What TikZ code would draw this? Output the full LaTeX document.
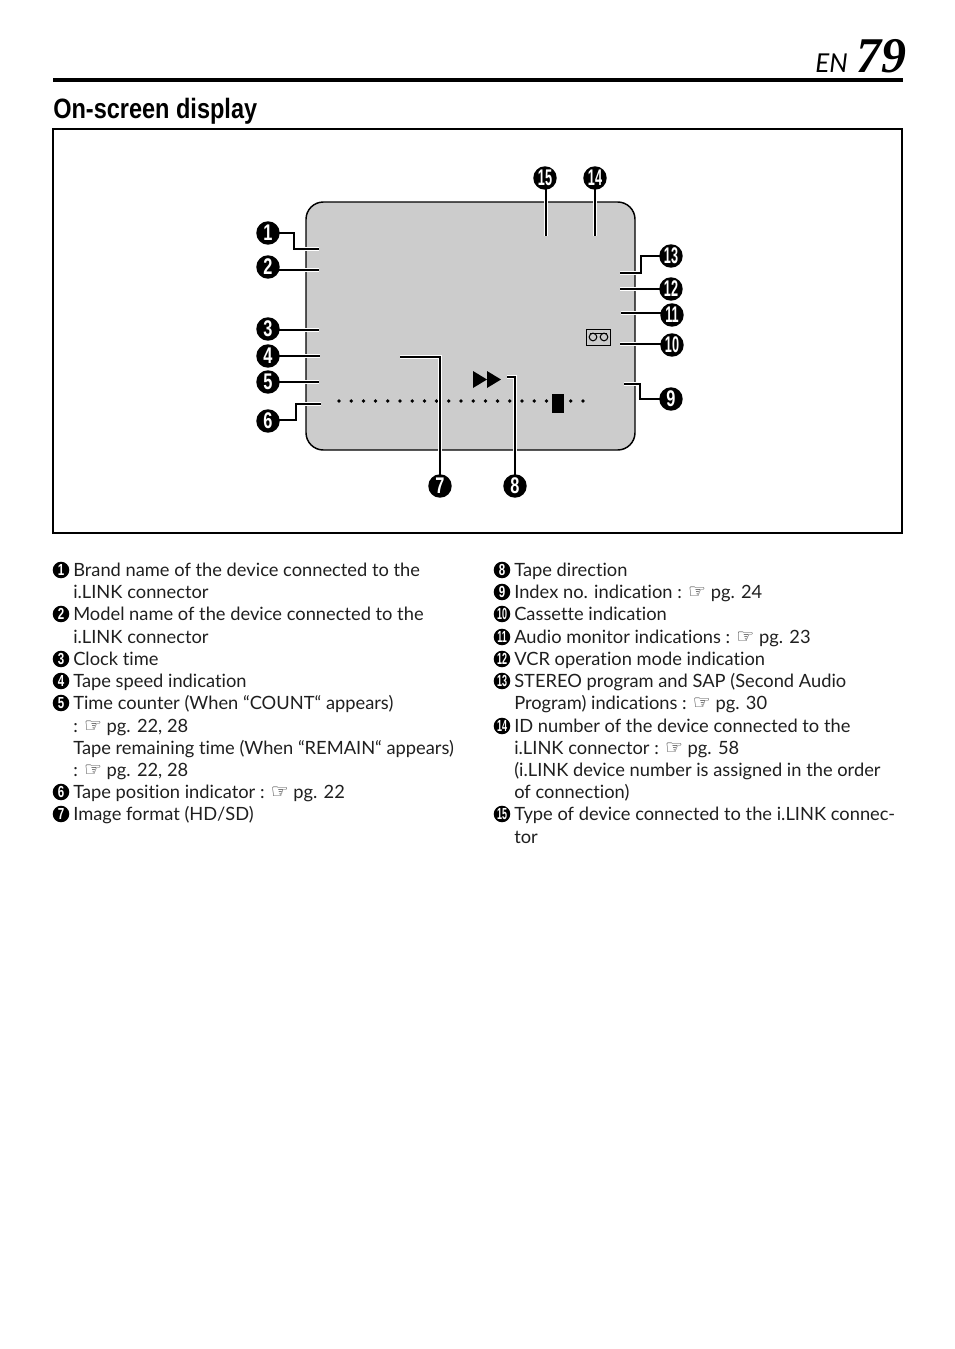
\documentclass[tikz,border=0pt]{standalone}
\usepackage{fontspec}
\setmainfont[Ligatures=NoCommon]{Lato}
\newfontfamily\dejavu{DejaVu Sans}
\newfontfamily\libsans{Liberation Sans}
\newfontfamily\libserif{Liberation Serif}
\newcommand{\hand}{{\dejavu\fontsize{15pt}{15pt}\selectfont ☞}}
\newcommand{\cnum}[2]{\libsans\bfseries\fontsize{#1}{#1}\selectfont\scalebox{0.72}[1]{#2}}
\newcommand{\cnumm}[2]{\libsans\bfseries\fontsize{#1}{#1}\selectfont\scalebox{0.56}[1]{#2}}
\pgfdeclarelayer{front}
\pgfsetlayers{main,front}
\usetikzlibrary{shapes.geometric}
\tikzset{
  x=0.75pt,y=-0.75pt,
  bigc/.style={circle,fill=black,text=white,inner sep=0pt,minimum size=17.6pt},
  smallc/.style={circle,fill=black,text=white,inner sep=0pt,minimum size=12.4pt},
  body/.style={anchor=base west,inner sep=0pt,font=\fontsize{13.72pt}{14pt}\selectfont,text=black!88},
  conn/.style={line width=1.9pt,draw=black,line cap=butt,line join=miter,preaction={draw=white,line width=3.2pt}},
  frameline/.style={draw=black,line width=1.0pt},
  screen/.style={draw=black,fill=black!20,line width=1.1pt,rounded corners=13pt},
  tick/.style={fill=black,inner sep=0pt,minimum size=3pt,diamond},
}
\begin{document}
\begin{tikzpicture}
\useasboundingbox (0,0) rectangle (954,1349);
% header
\draw[line width=3pt] (53,80) coordinate (ruleL) -- (903,80) coordinate (ruleR);
\node[anchor=base west,inner sep=0pt] (en) at (815,72) {\itshape\fontsize{19.5pt}{20pt}\selectfont EN};
\node[anchor=base west,inner sep=0pt] (pg) at (856,72) {\libserif\bfseries\itshape\fontsize{37.5pt}{38pt}\selectfont 79};
\node[anchor=base west,inner sep=0pt] (title) at (53,118) {\libsans\bfseries\fontsize{21pt}{22pt}\selectfont\scalebox{0.84}[1]{On-screen display}};
% frame and screen
\path[frameline] (53,129) rectangle (902,533);
\path[screen] (306,202) rectangle (635,450);
% scale dots
\foreach \i in {0,...,20}{\node[tick] (d\i) at ({339+12.2*\i},401) {};}
\node[fill=black,inner sep=0pt,minimum width=9pt,minimum height=14.2pt] (blk) at (558,403.5) {};
% tape direction
\fill (473,371) -- (487,379.5) -- (473,388) -- cycle;
\fill (487,371) -- (501,379.5) -- (487,388) -- cycle;
% cassette
\draw[line width=0.7pt,fill=black!20] (586.5,329.5) rectangle (610.5,345);
\draw[line width=0.8pt] (593,337) circle (3.8);
\draw[line width=0.8pt] (604,337) circle (3.8);
\draw[line width=0.8pt] (590,333.2) -- (607,333.2);
% callout circles
\begin{pgfonlayer}{front}
\node[bigc] (c1) at (268,233) {\cnum{17pt}{1}};
\node[bigc] (c2) at (268,267) {\cnum{17pt}{2}};
\node[bigc] (c3) at (268,329) {\cnum{17pt}{3}};
\node[bigc] (c4) at (268,356) {\cnum{17pt}{4}};
\node[bigc] (c5) at (268,382) {\cnum{17pt}{5}};
\node[bigc] (c6) at (268,421) {\cnum{17pt}{6}};
\node[bigc] (c7) at (440,486) {\cnum{17pt}{7}};
\node[bigc] (c8) at (515,486) {\cnum{17pt}{8}};
\node[bigc] (c9) at (671,399) {\cnum{17pt}{9}};
\node[bigc] (c10) at (672,345) {\cnumm{17pt}{10}};
\node[bigc] (c11) at (672,315) {\cnumm{17pt}{11}};
\node[bigc] (c12) at (671,289) {\cnumm{17pt}{12}};
\node[bigc] (c13) at (671,256) {\cnumm{17pt}{13}};
\node[bigc] (c14) at (595,178) {\cnumm{17pt}{14}};
\node[bigc] (c15) at (545,178) {\cnumm{17pt}{15}};
\end{pgfonlayer}
% connector free ends
\coordinate (e1) at (319,249);
\coordinate (e2) at (319,270);
\coordinate (e3) at (319,330);
\coordinate (e4) at (320,356);
\coordinate (e5) at (319,382);
\coordinate (e6) at (321,404);
\coordinate (e7) at (400,357);
\coordinate (e8) at (507,377);
\coordinate (e9) at (624,384);
\coordinate (e10) at (620,344);
\coordinate (e11) at (621,313);
\coordinate (e12) at (620,289);
\coordinate (e13) at (620,273);
\coordinate (e14) at (595,236);
\coordinate (e15) at (546,236);
% connectors
\draw[conn] (c1.center) -- ++(26,0) |- (e1);
\draw[conn] (c2.center |- e2) -- (e2);
\draw[conn] (c3.center |- e3) -- (e3);
\draw[conn] (c4.center) -- (e4);
\draw[conn] (c5.center) -- (e5);
\draw[conn] (c6.center) ++(0,-1) -- ++(28,0) |- (e6);
\draw[conn] (e7) -| (c7.center);
\draw[conn] (e8) -| (c8.center);
\draw[conn] (c9.center) -- ++(-31,0) |- (e9);
\draw[conn] (c10.center |- e10) -- (e10);
\draw[conn] (c11.center |- e11) -- (e11);
\draw[conn] (c12.center) -- (e12);
\draw[conn] (c13.center) -- ++(-30,0) |- (e13);
\draw[conn] (c14.center) -- (e14);
\draw[conn] (c15.center -| e15) -- (e15);
% left list
\node[smallc] (l1) at (61,570) {\cnum{12pt}{1}};
\node[body] (t1a) at (73,576) {Brand name of the device connected to the};
\node[body] (t1b) at (73,598) {i.LINK connector};
\node[smallc] (l2) at (61,614) {\cnum{12pt}{2}};
\node[body] (t2a) at (73,620) {Model name of the device connected to the};
\node[body] (t2b) at (73,643) {i.LINK connector};
\node[smallc] (l3) at (61,659) {\cnum{12pt}{3}};
\node[body] (t3) at (73,665) {Clock time};
\node[smallc] (l4) at (61,681) {\cnum{12pt}{4}};
\node[body] (t4) at (73,687) {Tape speed indication};
\node[smallc] (l5) at (61,703) {\cnum{12pt}{5}};
\node[body] (t5a) at (73,709) {Time counter (When “COUNT“ appears)};
\node[body] (t5b) at (73,732) {: \hand{} pg. 22, 28};
\node[body] (t5c) at (73,754) {Tape remaining time (When “REMAIN“ appears)};
\node[body] (t5d) at (73,776) {: \hand{} pg. 22, 28};
\node[smallc] (l6) at (61,792) {\cnum{12pt}{6}};
\node[body] (t6) at (73,798) {Tape position indicator : \hand{} pg. 22};
\node[smallc] (l7) at (61,814) {\cnum{12pt}{7}};
\node[body] (t7) at (73,820) {Image format (HD/SD)};
% right list
\node[smallc] (r8) at (502,570) {\cnum{12pt}{8}};
\node[body] (t8) at (514,576) {Tape direction};
\node[smallc] (r9) at (502,592) {\cnum{12pt}{9}};
\node[body] (t9) at (514,598) {Index no. indication : \hand{} pg. 24};
\node[smallc] (r10) at (502,614) {\cnumm{12pt}{10}};
\node[body] (t10) at (514,620) {Cassette indication};
\node[smallc] (r11) at (502,637) {\cnumm{12pt}{11}};
\node[body] (t11) at (514,643) {Audio monitor indications : \hand{} pg. 23};
\node[smallc] (r12) at (502,659) {\cnumm{12pt}{12}};
\node[body] (t12) at (514,665) {VCR operation mode indication};
\node[smallc] (r13) at (502,681) {\cnumm{12pt}{13}};
\node[body] (t13a) at (514,687) {STEREO program and SAP (Second Audio};
\node[body] (t13b) at (514,709) {Program) indications : \hand{} pg. 30};
\node[smallc] (r14) at (502,726) {\cnumm{12pt}{14}};
\node[body] (t14a) at (514,732) {ID number of the device connected to the};
\node[body] (t14b) at (514,754) {i.LINK connector : \hand{} pg. 58};
\node[body] (t14c) at (514,776) {(i.LINK device number is assigned in the order};
\node[body] (t14d) at (514,798) {of connection)};
\node[smallc] (r15) at (502,814) {\cnumm{12pt}{15}};
\node[body] (t15a) at (514,820) {Type of device connected to the i.LINK connec-};
\node[body] (t15b) at (514,843) {tor};
\end{tikzpicture}
\end{document}
